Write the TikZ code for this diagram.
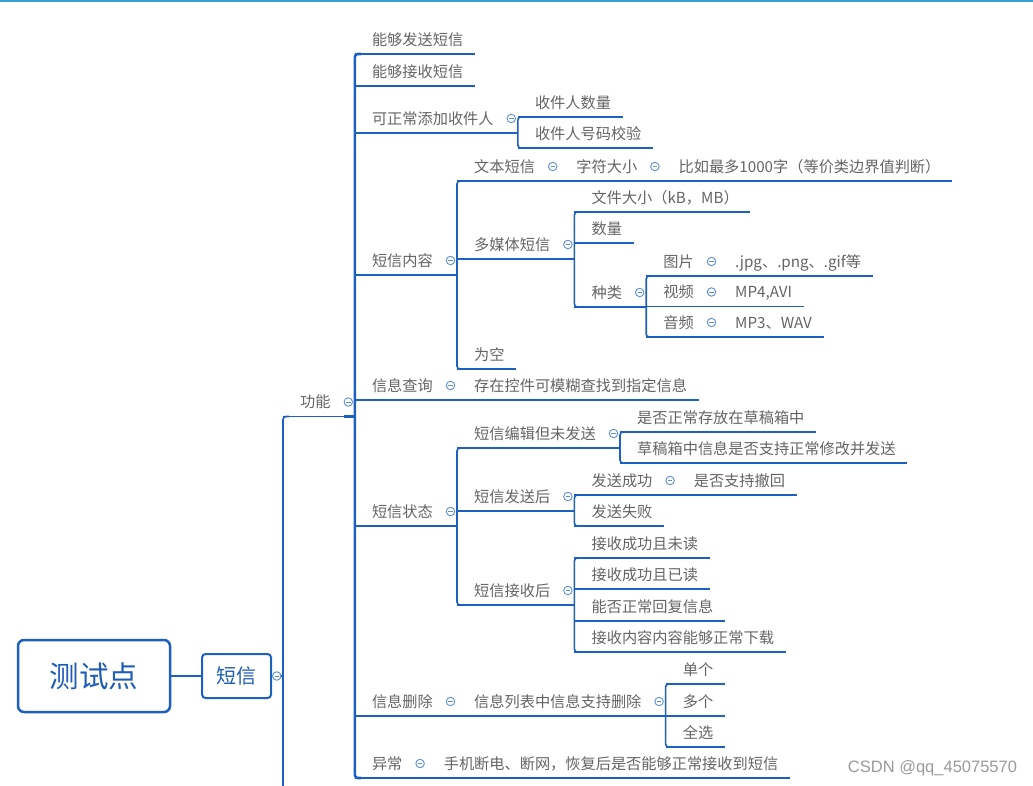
\documentclass[tikz,border=0pt]{standalone}
\usepackage{fontspec}
\setmainfont{Noto Sans CJK SC}
\newfontfamily\wmfont{Liberation Sans}
\usepackage{xcolor}
\definecolor{cLine}{HTML}{1C60C2}
\definecolor{cText}{HTML}{646464}
\definecolor{cRoot}{HTML}{1D5CB8}
\definecolor{cFold}{HTML}{5C8FD8}
\definecolor{cTop}{HTML}{3B9BD8}
\definecolor{cMark}{HTML}{9A9A9A}
\usepackage{tikz}
\usetikzlibrary{positioning}
\tikzset{
  node-root/.style={draw=cLine,line width=2.5pt,rounded corners=6pt,
    minimum width=152pt,minimum height=72pt,text=cRoot,
    font=\fontsize{29.5}{32}\selectfont},
  node-main/.style={draw=cLine,line width=2pt,rounded corners=3.5pt,
    minimum width=69pt,minimum height=44pt,text=cRoot,
    font=\fontsize{20}{24}\selectfont},
  node-topic/.style={inner sep=0pt,anchor=south west,text=cText,
    text height=12pt,text depth=8.5pt,font=\fontsize{15.2}{18}\selectfont,
    execute at begin node=\hspace*{17pt}},
  node-leaf/.style={node-topic,execute at end node=\hspace*{11.5pt}},
  node-parent/.style={node-topic,execute at end node=\hspace*{24pt}},
  node-fold/.style={circle,draw=cFold,fill=white,line width=0.9pt,
    inner sep=0pt,minimum size=8.5pt,
    path picture={\draw[cFold,line width=0.9pt]
      ([xshift=-2.2pt]path picture bounding box.center) --
      ([xshift=2.2pt]path picture bounding box.center);}},
  uline/.style={draw=cLine,line width=1.2pt},
  bar/.style={draw=cLine,line width=1.6pt,rounded corners=3pt},
  bar-main/.style={draw=cLine,line width=2.6pt,rounded corners=3pt},
  stub/.style={draw=cLine,line width=2.4pt},
}

\begin{document}
\begin{tikzpicture}[x=1pt,y=-1pt]
  \useasboundingbox (0,0) rectangle (1033,786);
  \fill[cTop] (0,0) rectangle (1033,2.5);

  % root and first branch
  \node[node-root] (root) at (94,676) {测试点};
  \node[node-main,right=29.8pt of root] (sms) {短信};
  \node[node-fold,right=0pt of sms] (f-sms) {};
  \coordinate (sms-down) at (283,800);

  \node[node-parent] (gn) at (283,416.5) {功能};
  \node[node-fold] (f-gn) at ([xshift=-6.5pt,yshift=14.5pt]gn.south east) {};

  % 功能
  \node[node-leaf]   (send)  at (gn.south east |- 0,54)  {能够发送短信};
  \node[node-leaf]   (recv)  at (gn.south east |- 0,86)  {能够接收短信};
  \node[node-parent] (addr)  at (gn.south east |- 0,133) {可正常添加收件人};
  \node[node-parent] (body)  at (gn.south east |- 0,275) {短信内容};
  \node[node-parent] (query) at (gn.south east |- 0,400) {信息查询};
  \node[node-parent] (state) at (gn.south east |- 0,526) {短信状态};
  \node[node-parent] (del)   at (gn.south east |- 0,716) {信息删除};
  \node[node-parent] (err)   at (gn.south east |- 0,778) {异常};

  % 收件人
  \node[node-leaf] (cnt) at (addr.south east |- 0,117) {收件人数量};
  \node[node-leaf] (chk) at (addr.south east |- 0,148) {收件人号码校验};

  % 短信内容
  \node[node-parent] (txt) at (body.south east |- 0,181) {文本短信};
  \node[node-parent,right=0pt of txt] (size) {字符大小};
  \node[node-leaf,right=0pt of size] (limit) {比如最多1000字（等价类边界值判断）};
  \node[node-parent] (mms)   at (body.south east |- 0,259) {多媒体短信};
  \node[node-leaf]   (empty) at (body.south east |- 0,369) {为空};
  \node[node-leaf]   (fsize) at (mms.south east |- 0,212) {文件大小（kB，MB）};
  \node[node-leaf]   (num)   at (mms.south east |- 0,243) {数量};
  \node[node-parent] (kind)  at (mms.south east |- 0,307) {种类};
  \node[node-parent] (pic) at (kind.south east |- 0,276) {图片};
  \node[node-leaf,right=0pt of pic] (picfmt) {.jpg、.png、.gif等};
  \node[node-parent] (vid) at (kind.south east |- 0,306.5) {视频};
  \node[node-leaf,right=0pt of vid] (vidfmt) {MP4,AVI};
  \node[node-parent] (aud) at (kind.south east |- 0,337) {音频};
  \node[node-leaf,right=0pt of aud] (audfmt) {MP3、WAV};

  % 信息查询
  \node[node-leaf,right=0pt of query] (fuzzy) {存在控件可模糊查找到指定信息};

  % 短信状态
  \node[node-parent] (draft) at (state.south east |- 0,448) {短信编辑但未发送};
  \node[node-parent] (sent)  at (state.south east |- 0,511) {短信发送后};
  \node[node-parent] (rcvd)  at (state.south east |- 0,605) {短信接收后};
  \node[node-leaf] (keep) at (draft.south east |- 0,432) {是否正常存放在草稿箱中};
  \node[node-leaf] (edit) at (draft.south east |- 0,463) {草稿箱中信息是否支持正常修改并发送};
  \node[node-parent] (ok) at (sent.south east |- 0,495) {发送成功};
  \node[node-leaf,right=0pt of ok] (undo) {是否支持撤回};
  \node[node-leaf] (fail) at (sent.south east |- 0,526) {发送失败};
  \node[node-leaf] (unread) at (rcvd.south east |- 0,558) {接收成功且未读};
  \node[node-leaf] (read)   at (rcvd.south east |- 0,589) {接收成功且已读};
  \node[node-leaf] (reply)  at (rcvd.south east |- 0,621) {能否正常回复信息};
  \node[node-leaf] (down)   at (rcvd.south east |- 0,652) {接收内容内容能够正常下载};

  % 信息删除, 异常
  \node[node-parent,right=0pt of del] (list) {信息列表中信息支持删除};
  \node[node-leaf] (one)  at (list.south east |- 0,684) {单个};
  \node[node-leaf] (many) at (list.south east |- 0,716) {多个};
  \node[node-leaf] (all)  at (list.south east |- 0,747) {全选};
  \node[node-leaf,right=0pt of err] (power) {手机断电、断网，恢复后是否能够正常接收到短信};

  % fold markers
  \node[node-fold] (f-addr)  at ([xshift=-6.5pt,yshift=14.5pt]addr.south east) {};
  \node[node-fold] (f-body)  at ([xshift=-6.5pt,yshift=14.5pt]body.south east) {};
  \node[node-fold] (f-txt)   at ([xshift=-6.5pt,yshift=14.5pt]txt.south east) {};
  \node[node-fold] (f-size)  at ([xshift=-6.5pt,yshift=14.5pt]size.south east) {};
  \node[node-fold] (f-mms)   at ([xshift=-6.5pt,yshift=14.5pt]mms.south east) {};
  \node[node-fold] (f-kind)  at ([xshift=-6.5pt,yshift=14.5pt]kind.south east) {};
  \node[node-fold] (f-pic)   at ([xshift=-6.5pt,yshift=14.5pt]pic.south east) {};
  \node[node-fold] (f-vid)   at ([xshift=-6.5pt,yshift=14.5pt]vid.south east) {};
  \node[node-fold] (f-aud)   at ([xshift=-6.5pt,yshift=14.5pt]aud.south east) {};
  \node[node-fold] (f-query) at ([xshift=-6.5pt,yshift=14.5pt]query.south east) {};
  \node[node-fold] (f-state) at ([xshift=-6.5pt,yshift=14.5pt]state.south east) {};
  \node[node-fold] (f-draft) at ([xshift=-6.5pt,yshift=14.5pt]draft.south east) {};
  \node[node-fold] (f-sent)  at ([xshift=-6.5pt,yshift=14.5pt]sent.south east) {};
  \node[node-fold] (f-ok)    at ([xshift=-6.5pt,yshift=14.5pt]ok.south east) {};
  \node[node-fold] (f-rcvd)  at ([xshift=-6.5pt,yshift=14.5pt]rcvd.south east) {};
  \node[node-fold] (f-del)   at ([xshift=-6.5pt,yshift=14.5pt]del.south east) {};
  \node[node-fold] (f-list)  at ([xshift=-6.5pt,yshift=14.5pt]list.south east) {};
  \node[node-fold] (f-err)   at ([xshift=-6.5pt,yshift=14.5pt]err.south east) {};

  \node[text=cMark,font=\wmfont\fontsize{16.5}{18}\selectfont] (mark) at (932.5,768) {CSDN @qq\_45075570};

  % connectors
  \draw[uline] (root) -- (sms);
  \draw[uline] (f-sms) -- (gn.south west |- f-sms);
  \draw[bar] ([xshift=6pt]gn.south west) -- (gn.south west) -- (gn.south west |- f-sms);
  \draw[bar-main] (gn.south west |- f-sms) -- (gn.south west |- sms-down);
  \draw[bar-main] ([xshift=6pt]send.south west) -- (send.south west) -- (err.south west) -- ([xshift=6pt]err.south west);
  \draw[bar] ([xshift=5pt]cnt.south west) -- (cnt.south west) -- (chk.south west) -- ([xshift=5pt]chk.south west);
  \draw[bar] ([xshift=5pt]txt.south west) -- (txt.south west) -- (empty.south west) -- ([xshift=5pt]empty.south west);
  \draw[bar] ([xshift=5pt]fsize.south west) -- (fsize.south west) -- (kind.south west) -- ([xshift=5pt]kind.south west);
  \draw[bar] ([xshift=5pt]pic.south west) -- (pic.south west) -- (aud.south west) -- ([xshift=5pt]aud.south west);
  \draw[bar] ([xshift=5pt]draft.south west) -- (draft.south west) -- (rcvd.south west) -- ([xshift=5pt]rcvd.south west);
  \draw[bar] ([xshift=5pt]keep.south west) -- (keep.south west) -- (edit.south west) -- ([xshift=5pt]edit.south west);
  \draw[bar] ([xshift=5pt]ok.south west) -- (ok.south west) -- (fail.south west) -- ([xshift=5pt]fail.south west);
  \draw[bar] ([xshift=5pt]unread.south west) -- (unread.south west) -- (down.south west) -- ([xshift=5pt]down.south west);
  \draw[bar] ([xshift=5pt]one.south west) -- (one.south west) -- (all.south west) -- ([xshift=5pt]all.south west);

  % underlines
  \draw[uline] (gn.south west) -- (gn.south east)
    (send.south west) -- (send.south east) (recv.south west) -- (recv.south east)
    (addr.south west) -- (addr.south east) (body.south west) -- (body.south east)
    (query.south west) -- (query.south east) (fuzzy.south west) -- (fuzzy.south east)
    (state.south west) -- (state.south east) (del.south west) -- (del.south east)
    (err.south west) -- (err.south east) (power.south west) -- (power.south east)
    (cnt.south west) -- (cnt.south east) (chk.south west) -- (chk.south east)
    (txt.south west) -- (txt.south east) (size.south west) -- (size.south east)
    (limit.south west) -- (limit.south east) (mms.south west) -- (mms.south east)
    (empty.south west) -- (empty.south east) (fsize.south west) -- (fsize.south east)
    (num.south west) -- (num.south east) (kind.south west) -- (kind.south east)
    (pic.south west) -- (pic.south east) (picfmt.south west) -- (picfmt.south east)
    (vid.south west) -- (vid.south east) (vidfmt.south west) -- (vidfmt.south east)
    (aud.south west) -- (aud.south east) (audfmt.south west) -- (audfmt.south east)
    (draft.south west) -- (draft.south east) (sent.south west) -- (sent.south east)
    (rcvd.south west) -- (rcvd.south east) (keep.south west) -- (keep.south east)
    (edit.south west) -- (edit.south east) (ok.south west) -- (ok.south east)
    (undo.south west) -- (undo.south east) (fail.south west) -- (fail.south east)
    (unread.south west) -- (unread.south east) (read.south west) -- (read.south east)
    (reply.south west) -- (reply.south east) (down.south west) -- (down.south east)
    (list.south west) -- (list.south east) (one.south west) -- (one.south east)
    (many.south west) -- (many.south east) (all.south west) -- (all.south east);

  % junction stubs
  \draw[stub] ([xshift=-11pt]gn.south east) -- (gn.south east)
    ([xshift=-11pt]addr.south east) -- (addr.south east)
    ([xshift=-11pt]body.south east) -- (body.south east)
    ([xshift=-11pt]mms.south east) -- (mms.south east)
    ([xshift=-11pt]kind.south east) -- (kind.south east)
    ([xshift=-11pt]state.south east) -- (state.south east)
    ([xshift=-11pt]draft.south east) -- (draft.south east)
    ([xshift=-11pt]sent.south east) -- (sent.south east)
    ([xshift=-11pt]rcvd.south east) -- (rcvd.south east)
    ([xshift=-11pt]del.south east) -- (del.south east)
    ([xshift=-11pt]list.south east) -- (list.south east);
\end{tikzpicture}
\end{document}
